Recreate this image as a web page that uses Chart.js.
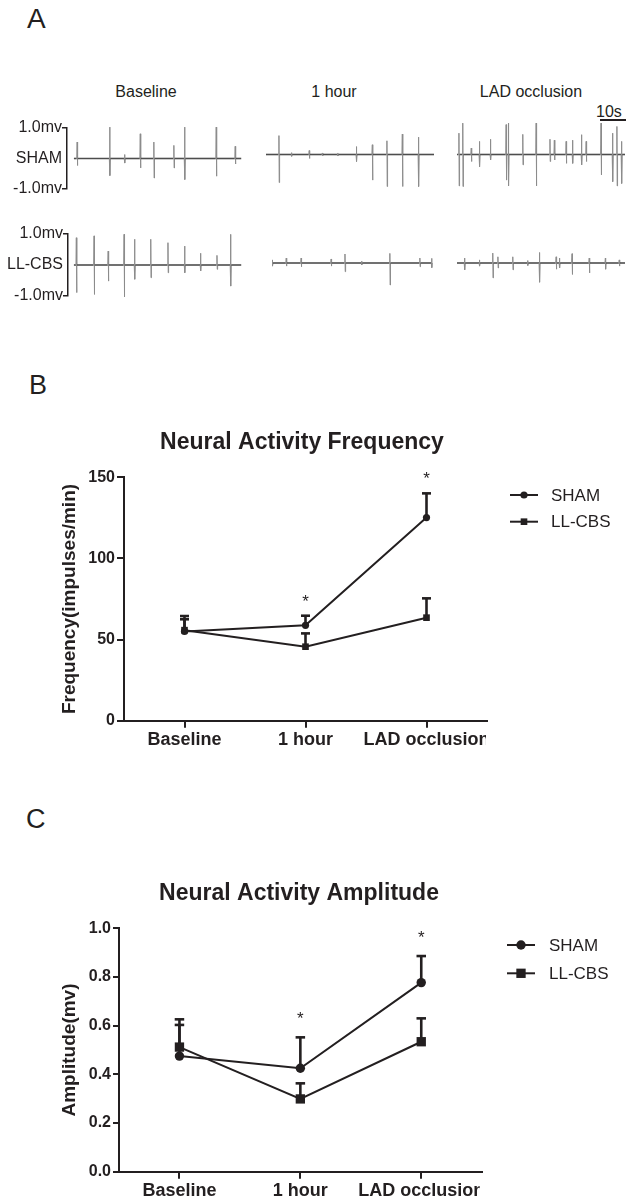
<!DOCTYPE html>
<html>
<head>
<meta charset="utf-8">
<script src="https://cdn.jsdelivr.net/npm/chart.js@4.4.0/dist/chart.umd.min.js"></script>
<style>
html,body{margin:0;padding:0;background:#fff;}
body{width:627px;height:1199px;position:relative;overflow:hidden;font-family:"Liberation Sans",Arial,Helvetica,sans-serif;color:#231f20;}
.t{position:absolute;white-space:nowrap;line-height:1;}
.c{text-align:center;width:200px;}
canvas{position:absolute;}
</style>
</head>
<body>
<div class="t" style="left:27px;top:5px;font-size:28px;">A</div>
<div class="t" style="left:29px;top:372px;font-size:27px;">B</div>
<div class="t" style="left:26px;top:806px;font-size:27px;">C</div>

<div class="t c" id="colT0" style="left:46px;top:84px;font-size:16px;"></div>
<div class="t c" id="colT1" style="left:234px;top:84px;font-size:16px;"></div>
<div class="t c" id="colT2" style="left:431px;top:84px;font-size:16px;"></div>
<div class="t" style="left:596px;top:104px;font-size:16px;">10s</div>
<div style="position:absolute;left:600px;top:119px;width:26px;height:0;border-top:2px solid #231f20;"></div>

<canvas id="trS0"></canvas>
<canvas id="trS1"></canvas>
<canvas id="trS2"></canvas>
<canvas id="trL0"></canvas>
<canvas id="trL1"></canvas>
<canvas id="trL2"></canvas>

<canvas id="chartB"></canvas>
<canvas id="chartC"></canvas>

<script>
// ---------- data ----------
const categories = ['Baseline', '1 hour', 'LAD occlusion'];
const seriesNames = ['SHAM', 'LL-CBS'];

// Panel B: neural activity frequency (impulses/min), mean and SEM
const freqSham = [55, 58.8, 125.2];
const freqShamSem = [7.5, 5.9, 14.9];
const freqLL = [55.8, 45.6, 63.5];
const freqLLSem = [8.7, 8.2, 11.9];
const freqTicks = [0, 50, 100, 150];

// Panel C: neural activity amplitude (mv), mean and SEM
const ampSham = [0.475, 0.425, 0.777];
const ampShamSem = [0.128, 0.127, 0.109];
const ampLL = [0.512, 0.299, 0.534];
const ampLLSem = [0.114, 0.064, 0.096];
const ampTicks = [0, 0.2, 0.4, 0.6, 0.8, 1.0];

const significant = [false, true, true];

// Panel A: recorded spikes [time s, upward mv, downward mv]
const traceAxisLabels = ['1.0mv', '-1.0mv'];
const shamBaseline = [[1.3,0.54,0.23],[14.0,1.03,0.56],[19.8,0.13,0.15],[25.9,0.81,0.31],[31.2,0.54,0.64],[39.0,0.43,0.31],[43.2,1.03,0.69],[55.5,1.03,0.58],[62.9,0.40,0.18]];
const shamHour = [[5.1,0.62,0.92],[10.0,0.06,0.06],[16.9,0.13,0.13],[22.0,0.05,0.05],[28.0,0.05,0.05],[35.3,0.26,0.23],[41.5,0.32,0.84],[47.2,0.45,1.05],[53.2,0.67,1.05],[59.5,0.57,1.05]];
const shamLAD = [[0.8,0.70,1.03],[2.3,1.03,1.05],[5.6,0.21,0.23],[8.8,0.43,0.40],[13.1,0.50,0.18],[19.2,0.98,0.84],[20.1,1.03,1.03],[25.7,0.66,0.34],[30.9,1.03,1.03],[36.3,0.50,0.23],[38.0,0.47,0.18],[42.6,0.43,0.29],[45.1,0.47,0.29],[48.6,0.65,0.34],[50.4,0.43,0.23],[56.2,1.03,0.67],[60.7,0.70,0.89],[62.4,0.92,1.03],[64.2,0.43,0.95]];
const llBaseline = [[1.0,0.88,0.89],[7.9,0.94,0.95],[13.4,0.45,0.52],[19.6,0.99,1.03],[23.7,0.83,0.46],[30.0,0.83,0.41],[36.7,0.72,0.25],[43.2,0.61,0.25],[49.4,0.38,0.19],[55.8,0.31,0.14],[61.1,0.99,0.68]];
const llHour = [[0.2,0.10,0.10],[5.6,0.16,0.10],[11.4,0.16,0.12],[23.1,0.13,0.10],[28.5,0.29,0.28],[35.0,0.06,0.06],[46.0,0.31,0.71],[57.7,0.16,0.12],[62.3,0.15,0.15]];
const llLAD = [[3.0,0.16,0.22],[8.8,0.10,0.10],[14.0,0.32,0.48],[16.0,0.20,0.16],[21.8,0.20,0.22],[27.6,0.08,0.08],[32.2,0.34,0.62],[38.7,0.20,0.20],[40.0,0.16,0.16],[44.9,0.30,0.37],[51.6,0.16,0.32],[57.9,0.16,0.20],[63.3,0.10,0.10]];
const traceLengths = {S0:65.2, S1:65.5, S2:65.5, L0:65.2, L1:62.5, L2:65.5};

// ---------- common ----------
const FONT = '"Liberation Sans", Arial, Helvetica, sans-serif';
const INK = '#231f20';
Chart.defaults.font.family = FONT;
Chart.defaults.color = INK;

categories.forEach((c, i) => { document.getElementById('colT' + i).textContent = c; });

const X_SPAN = 65.5;
const PPS = 2.57;

function traceChart(id, spikes, len, cfg) {
  const pts = [{x: 0, y: 0}];
  spikes.forEach(([t, up, dn]) => {
    pts.push({x: Math.max(0, t - 0.2), y: 0}, {x: t - 0.05, y: up}, {x: t + 0.05, y: -dn}, {x: Math.min(len, t + 0.2), y: 0});
  });
  pts.push({x: len, y: 0});
  const axisW = cfg.axis ? cfg.axisW : 0;
  const xmin = cfg.axis ? -cfg.lead : 0;
  const w = Math.round(axisW + (X_SPAN - xmin) * PPS);
  const cv = document.getElementById(id);
  cv.width = w; cv.height = cfg.h;
  cv.style.left = cfg.left + 'px'; cv.style.top = cfg.top + 'px';
  cv.style.width = w + 'px'; cv.style.height = cfg.h + 'px';
  const yScale = {
    min: -1, max: 1,
    display: !!cfg.axis,
    afterBuildTicks: s => { s.ticks = [{value: -1}, {value: 0}, {value: 1}]; },
    afterFit: s => { s.width = axisW; },
    ticks: {
      autoSkip: false, padding: 0, color: INK,
      font: {size: 16},
      callback: v => v === 1 ? traceAxisLabels[0] : (v === -1 ? traceAxisLabels[1] : cfg.rowName)
    },
    grid: {
      drawOnChartArea: false, tickLength: 5, lineWidth: 1.5,
      tickColor: c => (c.tick && c.tick.value === 0) ? 'rgba(0,0,0,0)' : INK
    },
    border: {display: true, color: INK, width: 1.5}
  };
  return new Chart(cv, {
    type: 'line',
    data: {datasets: [{
      data: pts, borderWidth: 1.4, pointRadius: 0, tension: 0, clip: false,
      borderColor: '#5a5a5a',
      segment: {
        borderColor: c => (c.p0.parsed.y === 0 && c.p1.parsed.y === 0) ? '#4d4d4d' : '#8c8c8c',
        borderWidth: c => (c.p0.parsed.y === 0 && c.p1.parsed.y === 0) ? 1.6 : 1
      }
    }]},
    options: {
      responsive: false, animation: false, events: [], devicePixelRatio: 1,
      layout: {padding: {top: 10, bottom: 10, left: 0, right: 0}},
      plugins: {legend: {display: false}, tooltip: {enabled: false}, title: {display: false}},
      scales: {x: {type: 'linear', min: xmin, max: X_SPAN, display: false}, y: yScale}
    }
  });
}

traceChart('trS0', shamBaseline, traceLengths.S0, {left: 0, top: 118, h: 81, axis: true, axisW: 67, lead: 2.7, rowName: seriesNames[0]});
traceChart('trS1', shamHour, traceLengths.S1, {left: 266, top: 114, h: 81});
traceChart('trS2', shamLAD, traceLengths.S2, {left: 457, top: 114, h: 81});
traceChart('trL0', llBaseline, traceLengths.L0, {left: 0, top: 224, h: 82, axis: true, axisW: 68, lead: 2.3, rowName: seriesNames[1]});
traceChart('trL1', llHour, traceLengths.L1, {left: 272, top: 222, h: 82});
traceChart('trL2', llLAD, traceLengths.L2, {left: 457, top: 222, h: 82});

// ---------- plugins for B and C ----------
function drawMarker(ctx, style, r, x, y) {
  ctx.beginPath();
  if (style === 'rect') {
    const s = r * Math.SQRT1_2;
    ctx.rect(x - s, y - s, 2 * s, 2 * s);
  } else {
    ctx.arc(x, y, r, 0, Math.PI * 2);
  }
  ctx.fill();
}

const figPlugin = {
  id: 'fig',
  beforeDraw(chart, args, o) {
    if (!chart.$clipPatched) {
      const xs = chart.scales.x;
      const orig = xs.drawLabels;
      xs.drawLabels = function (area) {
        const c = this.ctx;
        c.save();
        c.beginPath();
        c.rect(0, 0, chart.chartArea.right + o.clipExtra, chart.height);
        c.clip();
        orig.call(this, area);
        c.restore();
      };
      chart.$clipPatched = true;
    }
  },
  afterDatasetsDraw(chart, args, o) {
    const ctx = chart.ctx, xs = chart.scales.x, ys = chart.scales.y;
    // error bars
    ctx.save();
    ctx.strokeStyle = INK; ctx.lineWidth = o.errWidth; ctx.lineCap = 'butt';
    chart.data.datasets.forEach(ds => {
      ds.sem.forEach((e, i) => {
        const x = xs.getPixelForValue(i);
        const y0 = ys.getPixelForValue(ds.data[i]);
        const y1 = ys.getPixelForValue(ds.data[i] + e);
        ctx.beginPath();
        ctx.moveTo(x, y0); ctx.lineTo(x, y1);
        ctx.stroke();
        ctx.beginPath();
        ctx.moveTo(x - o.cap / 2, y1); ctx.lineTo(x + o.cap / 2, y1);
        ctx.stroke();
      });
    });
    ctx.restore();
    // significance marks
    ctx.save();
    ctx.fillStyle = INK; ctx.font = o.starSize + 'px ' + FONT;
    ctx.textAlign = 'center'; ctx.textBaseline = 'alphabetic';
    significant.forEach((s, i) => {
      if (!s) return;
      let top = Infinity;
      chart.data.datasets.forEach(ds => { top = Math.min(top, ys.getPixelForValue(ds.data[i] + ds.sem[i])); });
      ctx.fillText('*', xs.getPixelForValue(i), top - o.starGap + o.starSize * 0.58);
    });
    ctx.restore();
  },
  afterDraw(chart, args, o) {
    const ctx = chart.ctx;
    // title
    ctx.save();
    ctx.fillStyle = INK; ctx.font = 'bold ' + o.titleSize + 'px ' + FONT;
    ctx.textAlign = 'center'; ctx.textBaseline = 'alphabetic';
    ctx.fillText(o.title, o.titleX, o.titleY);
    ctx.restore();
    // legend
    ctx.save();
    chart.data.datasets.forEach((ds, i) => {
      const y = o.legY + i * o.legDy;
      ctx.strokeStyle = INK; ctx.fillStyle = INK; ctx.lineWidth = 2;
      ctx.beginPath(); ctx.moveTo(o.legX1, y); ctx.lineTo(o.legX2, y); ctx.stroke();
      drawMarker(ctx, ds.pointStyle, ds.pointRadius, (o.legX1 + o.legX2) / 2, y);
      ctx.font = o.legSize + 'px ' + FONT;
      ctx.textAlign = 'left'; ctx.textBaseline = 'middle';
      ctx.fillText(ds.label, o.legTextX, y + 1);
    });
    ctx.restore();
  }
};

function statChart(id, cfg) {
  const cv = document.getElementById(id);
  cv.width = 627; cv.height = cfg.h;
  cv.style.left = '0px'; cv.style.top = cfg.top + 'px';
  cv.style.width = '627px'; cv.style.height = cfg.h + 'px';
  const mk = (label, data, sem, style, r) => ({
    label, data, sem, pointStyle: style, pointRadius: r, pointHoverRadius: r,
    borderColor: INK, backgroundColor: INK, pointBackgroundColor: INK, pointBorderColor: INK,
    pointBorderWidth: 0, borderWidth: 2, tension: 0, clip: false
  });
  return new Chart(cv, {
    type: 'line',
    data: {
      labels: categories,
      datasets: [
        mk(seriesNames[0], cfg.sham, cfg.shamSem, 'circle', cfg.rCircle),
        mk(seriesNames[1], cfg.ll, cfg.llSem, 'rect', cfg.rRect)
      ]
    },
    plugins: [figPlugin],
    options: {
      responsive: false, animation: false, events: [], devicePixelRatio: 1,
      layout: {padding: cfg.padding},
      plugins: {
        legend: {display: false}, tooltip: {enabled: false}, title: {display: false},
        fig: cfg.fig
      },
      scales: {
        x: {
          type: 'category', offset: true,
          afterFit: s => { s.height = cfg.xH; },
          ticks: {font: {size: 18, weight: 'bold'}, color: INK, padding: 2, maxRotation: 0, autoSkip: false},
          grid: {drawOnChartArea: false, tickLength: cfg.xTick, lineWidth: 2, color: INK},
          border: {display: true, color: INK, width: 2}
        },
        y: {
          min: cfg.ticks[0], max: cfg.ticks[cfg.ticks.length - 1],
          afterBuildTicks: s => { s.ticks = cfg.ticks.map(v => ({value: v})); },
          afterFit: s => { s.width = cfg.yW; },
          ticks: {font: {size: 16, weight: 'bold'}, color: INK, padding: 2, callback: cfg.fmt},
          grid: {drawOnChartArea: false, tickLength: cfg.yTick, lineWidth: 2, color: INK},
          border: {display: true, color: INK, width: 2},
          title: {display: true, text: cfg.yTitle, font: {size: 19, weight: 'bold'}, color: INK, padding: {top: 4, bottom: 4}}
        }
      }
    }
  });
}

statChart('chartB', {
  top: 370, h: 420,
  sham: freqSham, shamSem: freqShamSem, ll: freqLL, llSem: freqLLSem,
  ticks: freqTicks, fmt: v => String(v),
  yTitle: 'Frequency(impulses/min)',
  padding: {left: 54.6, top: 107.3, right: 140, bottom: 19.3},
  yW: 69.4, xH: 50, xTick: 7, yTick: 7,
  rCircle: 3.6, rRect: 4.7,
  fig: {errWidth: 2.6, cap: 9, starSize: 17, starGap: 19, clipExtra: -1,
        title: 'Neural Activity Frequency', titleSize: 23, titleX: 302, titleY: 449 - 370,
        legX1: 510, legX2: 538, legTextX: 551, legY: 125, legDy: 26.7, legSize: 17}
});

statChart('chartC', {
  top: 800, h: 399,
  sham: ampSham, shamSem: ampShamSem, ll: ampLL, llSem: ampLLSem,
  ticks: ampTicks, fmt: v => v.toFixed(1),
  yTitle: 'Amplitude(mv)',
  padding: {left: 54.6, top: 128.3, right: 145.3, bottom: 0},
  yW: 64.4, xH: 27.3, xTick: 7, yTick: 6,
  rCircle: 4.7, rRect: 6.6,
  fig: {errWidth: 2.6, cap: 9.5, starSize: 17, starGap: 23, clipExtra: -2,
        title: 'Neural Activity Amplitude', titleSize: 23, titleX: 299, titleY: 899.6 - 800,
        legX1: 507, legX2: 535, legTextX: 549, legY: 145, legDy: 28.3, legSize: 17}
});
</script>
</body>
</html>
